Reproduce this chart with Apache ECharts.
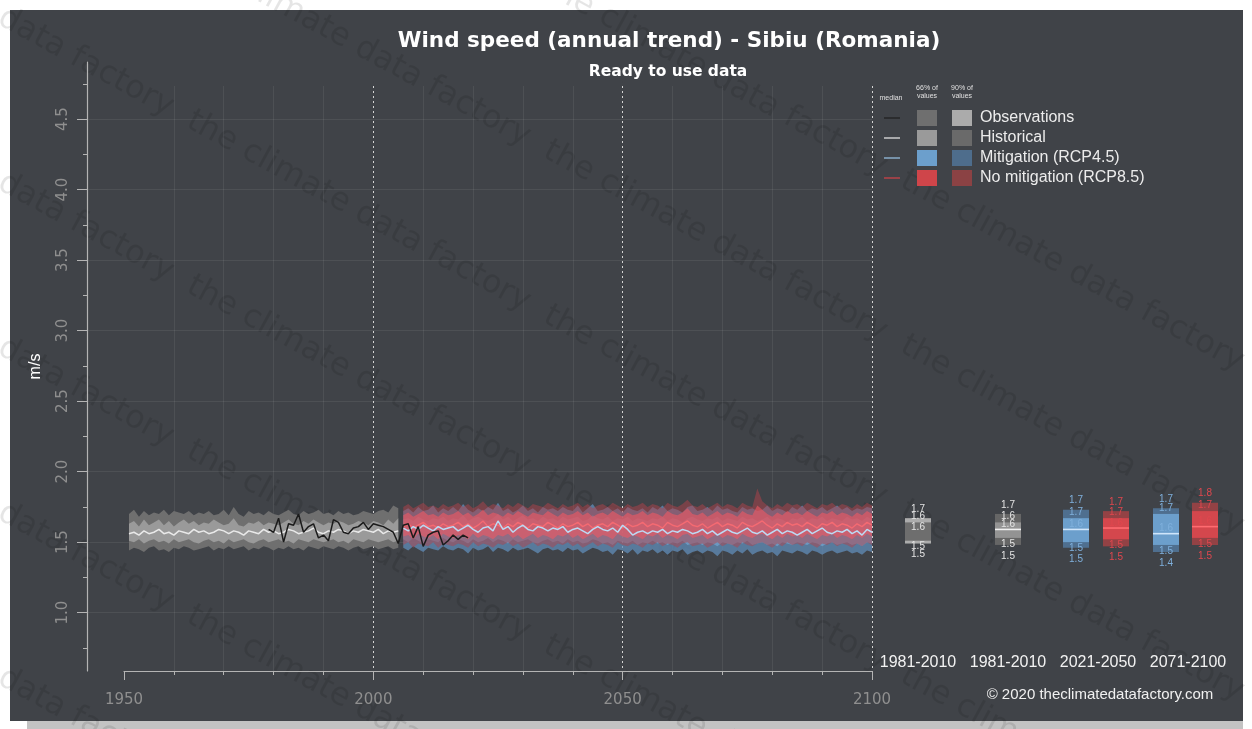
<!DOCTYPE html>
<html><head><meta charset="utf-8">
<script src="https://cdn.jsdelivr.net/npm/echarts@6/dist/echarts.min.js"></script>
<style>html,body{margin:0;padding:0;background:#fff;}#c{width:1252px;height:729px;}</style>
</head><body><div id="c"></div>
<script>
// ---------------- DATA ----------------
const yTickValues = [1.0, 1.5, 2.0, 2.5, 3.0, 3.5, 4.0, 4.5];
const yMinorTickValues = [0.75, 1.25, 1.75, 2.25, 2.75, 3.25, 3.75, 4.25, 4.75];

const histYears = [];
for (let y = 1951; y <= 2005; y++) histYears.push(y);
const futYears = [];
for (let y = 2006; y <= 2100; y++) futYears.push(y);
const obsYears = [];
for (let y = 1979; y <= 2019; y++) obsYears.push(y);

const obsValues = [1.59,1.57,1.67,1.50,1.63,1.62,1.70,1.57,1.61,1.63,
  1.53,1.55,1.51,1.66,1.64,1.57,1.56,1.60,1.61,1.64,
  1.59,1.63,1.62,1.61,1.59,1.57,1.49,1.62,1.63,1.53,
  1.61,1.47,1.55,1.57,1.58,1.48,1.51,1.55,1.52,1.55,1.53];

const histP50 = [1.56,1.57,1.55,1.58,1.56,1.57,1.59,1.56,1.57,1.55,
  1.58,1.57,1.56,1.59,1.57,1.58,1.56,1.57,1.59,1.58,
  1.56,1.58,1.57,1.55,1.58,1.57,1.56,1.59,1.57,1.58,
  1.56,1.57,1.59,1.58,1.56,1.57,1.58,1.60,1.57,1.56,
  1.58,1.57,1.59,1.58,1.56,1.58,1.57,1.59,1.58,1.57,
  1.59,1.56,1.58,1.57,1.58];
const histP17 = [1.51,1.50,1.52,1.49,1.51,1.52,1.50,1.51,1.49,1.52,
  1.50,1.51,1.52,1.50,1.49,1.51,1.52,1.50,1.51,1.49,
  1.52,1.50,1.51,1.52,1.50,1.49,1.51,1.52,1.50,1.51,
  1.52,1.50,1.51,1.49,1.52,1.51,1.50,1.52,1.51,1.50,
  1.51,1.52,1.50,1.51,1.49,1.52,1.51,1.50,1.52,1.51,
  1.50,1.51,1.52,1.50,1.51];
const histP83 = [1.63,1.65,1.61,1.66,1.62,1.64,1.66,1.62,1.65,1.61,
  1.64,1.66,1.63,1.65,1.62,1.64,1.63,1.66,1.64,1.62,
  1.63,1.67,1.62,1.61,1.64,1.63,1.65,1.62,1.64,1.63,
  1.62,1.64,1.66,1.63,1.62,1.65,1.63,1.66,1.64,1.62,
  1.64,1.63,1.65,1.64,1.62,1.63,1.65,1.64,1.62,1.65,
  1.64,1.62,1.66,1.63,1.67];
const histP5 = [1.44,1.46,1.45,1.43,1.46,1.47,1.44,1.45,1.43,1.46,
  1.45,1.47,1.46,1.44,1.45,1.46,1.47,1.44,1.46,1.45,
  1.47,1.45,1.46,1.47,1.44,1.46,1.45,1.47,1.46,1.44,
  1.46,1.45,1.47,1.45,1.46,1.44,1.47,1.46,1.45,1.47,
  1.46,1.45,1.47,1.46,1.44,1.46,1.47,1.45,1.46,1.47,
  1.45,1.46,1.47,1.45,1.46];
const histP95 = [1.70,1.73,1.68,1.72,1.69,1.71,1.70,1.73,1.69,1.72,
  1.71,1.70,1.72,1.69,1.71,1.70,1.72,1.69,1.70,1.73,
  1.69,1.75,1.70,1.68,1.72,1.70,1.71,1.69,1.72,1.70,
  1.69,1.71,1.73,1.70,1.69,1.72,1.70,1.71,1.73,1.70,
  1.71,1.69,1.72,1.70,1.71,1.69,1.70,1.72,1.71,1.70,
  1.72,1.73,1.71,1.76,1.74];

const rcp45P50 = [1.60,1.58,1.61,1.59,1.62,1.60,1.58,1.61,1.59,1.60,
  1.61,1.58,1.60,1.62,1.59,1.57,1.60,1.61,1.58,1.65,
  1.59,1.61,1.57,1.60,1.62,1.59,1.58,1.61,1.60,1.58,
  1.60,1.59,1.61,1.57,1.59,1.60,1.58,1.56,1.59,1.61,
  1.59,1.58,1.60,1.57,1.62,1.59,1.55,1.57,1.58,1.56,
  1.58,1.57,1.59,1.56,1.58,1.57,1.59,1.58,1.56,1.57,
  1.59,1.56,1.58,1.55,1.57,1.59,1.57,1.56,1.58,1.60,
  1.57,1.56,1.58,1.55,1.57,1.59,1.56,1.58,1.57,1.55,
  1.57,1.59,1.56,1.58,1.60,1.57,1.56,1.58,1.57,1.59,
  1.56,1.58,1.55,1.59,1.57];
const rcp45P17 = [1.52,1.50,1.53,1.51,1.49,1.52,1.51,1.50,1.53,1.51,
  1.50,1.52,1.51,1.49,1.52,1.50,1.51,1.53,1.50,1.52,
  1.51,1.49,1.52,1.50,1.51,1.52,1.50,1.49,1.51,1.52,
  1.50,1.51,1.49,1.52,1.50,1.51,1.49,1.50,1.52,1.51,
  1.49,1.50,1.48,1.51,1.50,1.49,1.51,1.48,1.50,1.49,
  1.51,1.49,1.50,1.48,1.50,1.49,1.51,1.48,1.49,1.50,
  1.48,1.50,1.49,1.47,1.50,1.49,1.48,1.50,1.49,1.51,
  1.48,1.49,1.50,1.48,1.49,1.47,1.50,1.49,1.48,1.50,
  1.49,1.48,1.50,1.49,1.47,1.49,1.50,1.48,1.49,1.50,
  1.48,1.49,1.47,1.50,1.49];
const rcp45P83 = [1.66,1.67,1.65,1.68,1.66,1.65,1.67,1.66,1.68,1.65,
  1.67,1.66,1.69,1.65,1.67,1.68,1.66,1.65,1.67,1.70,
  1.66,1.68,1.65,1.67,1.69,1.66,1.67,1.65,1.68,1.66,
  1.67,1.65,1.68,1.66,1.67,1.68,1.65,1.66,1.69,1.67,
  1.66,1.68,1.65,1.67,1.66,1.68,1.65,1.67,1.66,1.65,
  1.67,1.66,1.68,1.65,1.67,1.66,1.64,1.67,1.68,1.66,
  1.65,1.67,1.66,1.68,1.65,1.67,1.66,1.65,1.68,1.66,
  1.67,1.65,1.66,1.68,1.65,1.67,1.66,1.64,1.67,1.66,
  1.68,1.65,1.67,1.66,1.68,1.65,1.67,1.66,1.65,1.68,
  1.66,1.67,1.65,1.68,1.66];
const rcp45P5 = [1.46,1.44,1.47,1.45,1.43,1.46,1.45,1.44,1.47,1.45,
  1.44,1.46,1.45,1.42,1.46,1.44,1.45,1.47,1.43,1.46,
  1.45,1.43,1.46,1.44,1.45,1.46,1.44,1.42,1.45,1.46,
  1.44,1.45,1.43,1.46,1.44,1.45,1.42,1.44,1.46,1.45,
  1.43,1.44,1.41,1.45,1.44,1.42,1.45,1.41,1.44,1.43,
  1.45,1.42,1.44,1.41,1.44,1.43,1.45,1.41,1.43,1.44,
  1.42,1.44,1.43,1.40,1.44,1.43,1.41,1.44,1.42,1.45,
  1.41,1.43,1.44,1.42,1.43,1.40,1.44,1.43,1.42,1.44,
  1.43,1.41,1.44,1.43,1.41,1.43,1.44,1.42,1.43,1.44,
  1.42,1.43,1.41,1.44,1.43];
const rcp45P95 = [1.72,1.74,1.71,1.75,1.72,1.73,1.76,1.71,1.74,1.72,
  1.75,1.72,1.77,1.73,1.71,1.74,1.72,1.75,1.73,1.78,
  1.72,1.74,1.71,1.73,1.76,1.72,1.74,1.71,1.75,1.73,
  1.74,1.72,1.75,1.73,1.72,1.76,1.71,1.74,1.77,1.72,
  1.73,1.75,1.72,1.74,1.71,1.75,1.73,1.72,1.74,1.71,
  1.75,1.73,1.76,1.72,1.74,1.73,1.71,1.75,1.76,1.72,
  1.73,1.75,1.72,1.76,1.73,1.74,1.72,1.71,1.75,1.73,
  1.74,1.72,1.73,1.76,1.72,1.74,1.73,1.71,1.75,1.73,
  1.76,1.72,1.74,1.73,1.75,1.72,1.74,1.76,1.73,1.75,
  1.72,1.74,1.73,1.75,1.74];

const rcp85P50 = [1.61,1.63,1.60,1.62,1.64,1.61,1.62,1.60,1.63,1.61,
  1.62,1.64,1.61,1.63,1.60,1.62,1.65,1.61,1.63,1.62,
  1.60,1.63,1.61,1.64,1.62,1.60,1.63,1.62,1.61,1.64,
  1.62,1.60,1.63,1.61,1.62,1.64,1.61,1.63,1.60,1.62,
  1.63,1.61,1.64,1.62,1.60,1.63,1.61,1.62,1.64,1.61,
  1.63,1.62,1.60,1.64,1.62,1.61,1.63,1.65,1.62,1.61,
  1.63,1.60,1.62,1.64,1.61,1.63,1.62,1.60,1.64,1.62,
  1.61,1.63,1.65,1.62,1.60,1.63,1.61,1.64,1.62,1.63,
  1.61,1.64,1.62,1.60,1.63,1.62,1.64,1.61,1.63,1.62,
  1.60,1.63,1.61,1.64,1.62];
const rcp85P17 = [1.54,1.55,1.52,1.56,1.54,1.53,1.55,1.52,1.56,1.54,
  1.53,1.55,1.54,1.52,1.56,1.53,1.55,1.54,1.52,1.55,
  1.54,1.56,1.53,1.55,1.52,1.54,1.56,1.53,1.55,1.54,
  1.52,1.55,1.54,1.56,1.53,1.55,1.52,1.54,1.56,1.53,
  1.55,1.54,1.52,1.56,1.54,1.53,1.55,1.54,1.52,1.55,
  1.54,1.56,1.53,1.55,1.54,1.52,1.55,1.56,1.53,1.54,
  1.55,1.52,1.54,1.56,1.53,1.55,1.54,1.52,1.56,1.54,
  1.53,1.55,1.56,1.54,1.52,1.55,1.53,1.56,1.54,1.55,
  1.53,1.56,1.54,1.52,1.55,1.54,1.56,1.53,1.55,1.54,
  1.52,1.55,1.53,1.56,1.54];
const rcp85P83 = [1.69,1.71,1.68,1.70,1.72,1.69,1.70,1.68,1.71,1.69,
  1.70,1.72,1.69,1.71,1.68,1.70,1.73,1.69,1.71,1.70,
  1.68,1.71,1.69,1.72,1.70,1.68,1.71,1.70,1.69,1.72,
  1.70,1.68,1.71,1.69,1.70,1.72,1.69,1.71,1.68,1.70,
  1.71,1.69,1.72,1.70,1.68,1.71,1.69,1.70,1.72,1.69,
  1.71,1.70,1.68,1.72,1.70,1.69,1.71,1.74,1.70,1.69,
  1.71,1.68,1.70,1.72,1.69,1.71,1.70,1.68,1.72,1.70,
  1.69,1.76,1.73,1.70,1.68,1.71,1.69,1.72,1.70,1.71,
  1.69,1.72,1.70,1.68,1.71,1.70,1.72,1.69,1.71,1.70,
  1.68,1.71,1.69,1.72,1.70];
const rcp85P5 = [1.48,1.50,1.46,1.49,1.48,1.47,1.50,1.46,1.49,1.48,
  1.47,1.49,1.48,1.46,1.50,1.47,1.49,1.48,1.46,1.49,
  1.48,1.50,1.47,1.49,1.46,1.48,1.50,1.47,1.49,1.48,
  1.46,1.49,1.48,1.50,1.47,1.49,1.46,1.48,1.50,1.47,
  1.49,1.48,1.46,1.50,1.48,1.47,1.49,1.48,1.46,1.49,
  1.48,1.50,1.47,1.49,1.48,1.46,1.49,1.50,1.47,1.48,
  1.49,1.46,1.48,1.50,1.47,1.49,1.48,1.46,1.50,1.48,
  1.47,1.49,1.50,1.48,1.46,1.49,1.47,1.50,1.48,1.49,
  1.47,1.50,1.48,1.46,1.49,1.48,1.50,1.47,1.49,1.48,
  1.46,1.49,1.47,1.50,1.48];
const rcp85P95 = [1.75,1.77,1.74,1.76,1.78,1.75,1.76,1.74,1.77,1.75,
  1.76,1.78,1.75,1.77,1.74,1.76,1.79,1.75,1.77,1.76,
  1.74,1.77,1.75,1.78,1.76,1.74,1.77,1.76,1.75,1.78,
  1.76,1.74,1.77,1.75,1.76,1.78,1.75,1.77,1.74,1.76,
  1.77,1.75,1.78,1.76,1.74,1.77,1.75,1.76,1.78,1.75,
  1.77,1.76,1.74,1.78,1.76,1.75,1.77,1.80,1.76,1.75,
  1.77,1.74,1.76,1.78,1.75,1.77,1.76,1.74,1.78,1.76,
  1.75,1.88,1.79,1.76,1.74,1.77,1.75,1.78,1.76,1.77,
  1.75,1.78,1.76,1.74,1.77,1.76,1.78,1.75,1.77,1.76,
  1.74,1.77,1.75,1.78,1.76];

// Right-hand period summaries (one entry per box)
const boxCategories = ['1981-2010', '1981-2010', '2021-2050', '2071-2100'];
const boxCategoryIndex = [0, 1, 2, 2, 3, 3];
const boxKind = ['obs', 'hist', 'rcp45', 'rcp85', 'rcp45', 'rcp85'];
const boxP5  = [1.49, 1.48, 1.46, 1.47, 1.43, 1.48];
const boxP17 = [1.51, 1.53, 1.50, 1.52, 1.48, 1.53];
const boxP50 = [1.57, 1.59, 1.59, 1.60, 1.56, 1.61];
const boxP83 = [1.64, 1.64, 1.67, 1.67, 1.70, 1.72];
const boxP95 = [1.67, 1.70, 1.73, 1.72, 1.74, 1.78];

const legendLabels = ['Observations', 'Historical', 'Mitigation (RCP4.5)', 'No mitigation (RCP8.5)'];

// ---------------- STYLE ----------------
const BG = '#404348';
const kindStyle = {
  obs:   { c90: '#acacac', c66: '#6e6e6e', med: null,      txt: '#e4e4e4' },
  hist:  { c90: '#666666', c66: '#939393', med: '#f0f0f0', txt: '#e4e4e4' },
  rcp45: { c90: '#4f6f8f', c66: '#6c9fcc', med: '#cfe5fa', txt: '#7fb0dc' },
  rcp85: { c90: '#934245', c66: '#d4474d', med: '#ff6b70', txt: '#e0474e' }
};
const boxShift = [0, 0, -22, 18, -22, 17];
const legendStyle = [
  { line: '#1e1e1e', c66: '#6f6f6f', c90: '#ababab' },
  { line: '#eeeeee', c66: '#9a9a9a', c90: '#6a6a6a' },
  { line: '#9cc6ea', c66: '#6c9fcc', c90: '#4e6d8c' },
  { line: '#d8434a', c66: '#cf454a', c90: '#8b4244' }
];

const Y0 = 0.586, YTOP_AXIS = 4.905, YTOP_PLOT = 4.735;

function pairs(xs, vs) { return xs.map((x, i) => [x, vs[i]]); }
function band(name, years, lo, hi, color, z) {
  return {
    type: 'custom', name: name, xAxisIndex: 3, yAxisIndex: 3, silent: true, z: z,
    data: years.map((y, i) => [y, lo[i], hi[i]]),
    encode: { x: 0, y: [1, 2] },
    renderItem: function (params, api) {
      if (params.dataIndex !== 0) return null;
      const pts = [];
      for (let i = 0; i < years.length; i++) pts.push(api.coord([years[i], hi[i]]));
      for (let i = years.length - 1; i >= 0; i--) pts.push(api.coord([years[i], lo[i]]));
      return { type: 'polygon', shape: { points: pts }, style: { fill: color } };
    }
  };
}
function medLine(name, years, vals, color, z, w) {
  return { type: 'line', name: name, xAxisIndex: 3, yAxisIndex: 3, data: pairs(years, vals),
    symbol: 'none', silent: true, z: z, lineStyle: { color: color, width: w || 1.5 } };
}

// ---------------- GRAPHICS (background, watermark, legend, notes) ----------------
const graphics = [];
graphics.push({ type: 'rect', shape: { x: 10, y: 10, width: 1233, height: 711 }, style: { fill: BG }, z: -20, silent: true });
graphics.push({ type: 'rect', shape: { x: 27, y: 721, width: 1216, height: 8 }, style: { fill: '#c3c3c3' }, z: -20, silent: true });
const wm = 'the climate data factory  the climate data factory  the climate data factory  the climate data factory  the climate data factory';
for (let k = 0; k < 11; k++) {
  graphics.push({ type: 'text', x: -160, y: -420 + k * 165, rotation: -0.5, z: -10, silent: true,
    style: { text: wm, font: '32px "DejaVu Sans"', fill: 'rgba(0,0,0,0.10)' } });
}
// legend header
const hdrFont = '7px "Liberation Sans"';
graphics.push({ type: 'text', x: 891, y: 98, z: 20, style: { text: 'median', font: hdrFont, fill: '#e0e0e0', align: 'center', verticalAlign: 'middle', textAlign: 'center', textVerticalAlign: 'middle' } });
graphics.push({ type: 'text', x: 927, y: 92, z: 20, style: { text: '66% of\nvalues', font: hdrFont, lineHeight: 8, fill: '#e0e0e0', align: 'center', verticalAlign: 'middle', textAlign: 'center', textVerticalAlign: 'middle' } });
graphics.push({ type: 'text', x: 962, y: 92, z: 20, style: { text: '90% of\nvalues', font: hdrFont, lineHeight: 8, fill: '#e0e0e0', align: 'center', verticalAlign: 'middle', textAlign: 'center', textVerticalAlign: 'middle' } });
legendLabels.forEach((lab, i) => {
  const yc = 118 + i * 20, s = legendStyle[i];
  graphics.push({ type: 'line', z: 20, shape: { x1: 884, y1: yc, x2: 900, y2: yc }, style: { stroke: s.line, lineWidth: 1.2 } });
  graphics.push({ type: 'rect', z: 20, shape: { x: 917, y: yc - 8, width: 20, height: 16 }, style: { fill: s.c66 } });
  graphics.push({ type: 'rect', z: 20, shape: { x: 952, y: yc - 8, width: 20, height: 16 }, style: { fill: s.c90 } });
  graphics.push({ type: 'text', z: 20, x: 980, y: yc, style: { text: lab, font: '16px "Liberation Sans"', fill: '#ececec', verticalAlign: 'middle', textVerticalAlign: 'middle' } });
});
graphics.push({ type: 'text', z: 20, x: 1100, y: 695, style: { text: '© 2020 theclimatedatafactory.com', font: '15px "Liberation Sans"', fill: '#f0f0f0', align: 'center', verticalAlign: 'middle', textAlign: 'center', textVerticalAlign: 'middle' } });

// ---------------- CHART ----------------
const axisGray = '#b4b4b4';
const labelGray = '#8f8f8f';
const faint = 'rgba(255,255,255,0.07)';

const option = {
  animation: false,
  backgroundColor: '#ffffff',
  title: [
    { text: 'Wind speed (annual trend) - Sibiu (Romania)', left: 664, top: 25, textAlign: 'center',
      textStyle: { color: '#ffffff', fontSize: 21.5, fontWeight: 'bold', fontFamily: 'DejaVu Sans' } },
    { text: 'Ready to use data', left: 663, top: 59, textAlign: 'center',
      textStyle: { color: '#ffffff', fontSize: 15.5, fontWeight: 'bold', fontFamily: 'DejaVu Sans' } }
  ],
  graphic: { elements: graphics },
  grid: [
    { left: 87, right: 380, top: 62, bottom: 58 },      // 0 visible y axis
    { left: 87, right: 380, top: 62, bottom: 58 },      // 1 minor y ticks
    { left: 87, right: 380, top: 48.6, bottom: 45.9 },  // 2 horizontal grid lines
    { left: 124, right: 380, top: 86, bottom: 58 },     // 3 time series
    { left: 873, right: 19, top: 86, bottom: 58 }       // 4 period boxes
  ],
  xAxis: [
    { gridIndex: 0, type: 'value', show: false },
    { gridIndex: 1, type: 'value', show: false },
    { gridIndex: 2, type: 'value', show: false },
    { gridIndex: 3, type: 'value', min: 1950, max: 2100, interval: 50,
      axisLine: { show: true, lineStyle: { color: axisGray, width: 1.2 } },
      axisTick: { show: true, length: 9, lineStyle: { color: axisGray } },
      minorTick: { show: true, splitNumber: 5, length: 4, lineStyle: { color: axisGray } },
      axisLabel: { color: labelGray, fontSize: 15, fontFamily: 'DejaVu Sans', margin: 22, formatter: v => String(v) },
      splitLine: { show: true, showMinLine: false, showMaxLine: true, lineStyle: { color: '#d4d4d4', type: [2, 3], width: 1 } },
      minorSplitLine: { show: true, lineStyle: { color: faint, width: 1 } } },
    { gridIndex: 4, type: 'category', data: boxCategories,
      axisLine: { show: false }, axisTick: { show: false }, splitLine: { show: false },
      axisLabel: { inside: true, interval: 0, margin: 0, color: '#f2f2f2', fontSize: 16, fontFamily: 'Liberation Sans' } }
  ],
  yAxis: [
    { gridIndex: 0, type: 'value', min: Y0, max: YTOP_AXIS,
      name: 'm/s', nameLocation: 'middle', nameGap: 43, nameRotate: 90,
      nameTextStyle: { color: '#ffffff', fontSize: 16, fontFamily: 'Liberation Sans' },
      axisLine: { show: true, lineStyle: { color: axisGray, width: 1.2 } },
      axisTick: { show: true, length: 10, customValues: yTickValues, lineStyle: { color: axisGray } },
      axisLabel: { show: true, rotate: 90, margin: 16, customValues: yTickValues, color: labelGray, fontSize: 15,
        fontFamily: 'DejaVu Sans', formatter: v => Number(v).toFixed(1) },
      splitLine: { show: false } },
    { gridIndex: 1, type: 'value', min: Y0, max: YTOP_AXIS,
      axisLine: { show: false },
      axisTick: { show: true, length: 4, customValues: yMinorTickValues, lineStyle: { color: axisGray } },
      axisLabel: { show: false }, splitLine: { show: false } },
    { gridIndex: 2, type: 'value', min: 0.5, max: 5.0, interval: 0.5,
      axisLine: { show: false }, axisTick: { show: false }, axisLabel: { show: false },
      splitLine: { show: true, showMinLine: false, showMaxLine: false, lineStyle: { color: faint, width: 1 } } },
    { gridIndex: 3, type: 'value', min: Y0, max: YTOP_PLOT, show: false, splitLine: { show: false } },
    { gridIndex: 4, type: 'value', min: Y0, max: YTOP_PLOT, show: false, splitLine: { show: false } }
  ],
  series: [
    band('hist90', histYears, histP5, histP95, '#6f6f6f', 3),
    band('hist66', histYears, histP17, histP83, '#9a9a9a', 3),
    medLine('Historical', histYears, histP50, '#e9e9e9', 4, 1.5),
    band('rcp45-90', futYears, rcp45P5, rcp45P95, 'rgba(96,140,184,0.75)', 3),
    band('rcp45-66', futYears, rcp45P17, rcp45P83, 'rgba(122,172,216,0.6)', 3),
    band('rcp85-90', futYears, rcp85P5, rcp85P95, 'rgba(178,66,74,0.5)', 3),
    band('rcp85-66', futYears, rcp85P17, rcp85P83, 'rgba(242,88,98,0.6)', 3),
    medLine('No mitigation (RCP8.5)', futYears, rcp85P50, '#f56a72', 4, 1.4),
    medLine('Mitigation (RCP4.5)', futYears, rcp45P50, '#bcdaf4', 4, 1.5),
    medLine('Observations', obsYears, obsValues, '#1b1b1b', 5, 1.5),
    {
      type: 'custom', xAxisIndex: 4, yAxisIndex: 4, silent: true, z: 6,
      data: boxP5.map((v, i) => [boxCategoryIndex[i], boxP5[i], boxP17[i], boxP50[i], boxP83[i], boxP95[i]]),
      encode: { x: 0, y: [1, 2, 3, 4, 5] },
      renderItem: function (params, api) {
        const i = params.dataIndex;
        const st = kindStyle[boxKind[i]];
        const cat = api.value(0);
        const cx = api.coord([cat, 1.5])[0] + boxShift[i];
        const yy = v => api.coord([cat, v])[1];
        const p5 = api.value(1), p17 = api.value(2), p50 = api.value(3), p83 = api.value(4), p95 = api.value(5);
        const w = 26;
        const children = [
          { type: 'rect', shape: { x: cx - w / 2, y: yy(p95), width: w, height: yy(p5) - yy(p95) }, style: { fill: st.c90 } },
          { type: 'rect', shape: { x: cx - w / 2, y: yy(p83), width: w, height: yy(p17) - yy(p83) }, style: { fill: st.c66 } }
        ];
        if (st.med) children.push({ type: 'line', shape: { x1: cx - w / 2, y1: yy(p50), x2: cx + w / 2, y2: yy(p50) }, style: { stroke: st.med, lineWidth: 1.6 } });
        const lab = [[p95, -9], [p83, -6], [p50, -5], [p17, 6], [p5, 11]];
        lab.forEach(([v, off]) => children.push({ type: 'text', style: {
          text: v.toFixed(1), x: cx, y: yy(v) + off, fill: st.txt, font: '10px "Liberation Sans"',
          align: 'center', verticalAlign: 'middle', textAlign: 'center', textVerticalAlign: 'middle' } }));
        return { type: 'group', children: children };
      }
    }
  ]
};

const chart = echarts.init(document.getElementById('c'), null, { renderer: 'canvas' });
chart.setOption(option);
</script>
</body></html>
